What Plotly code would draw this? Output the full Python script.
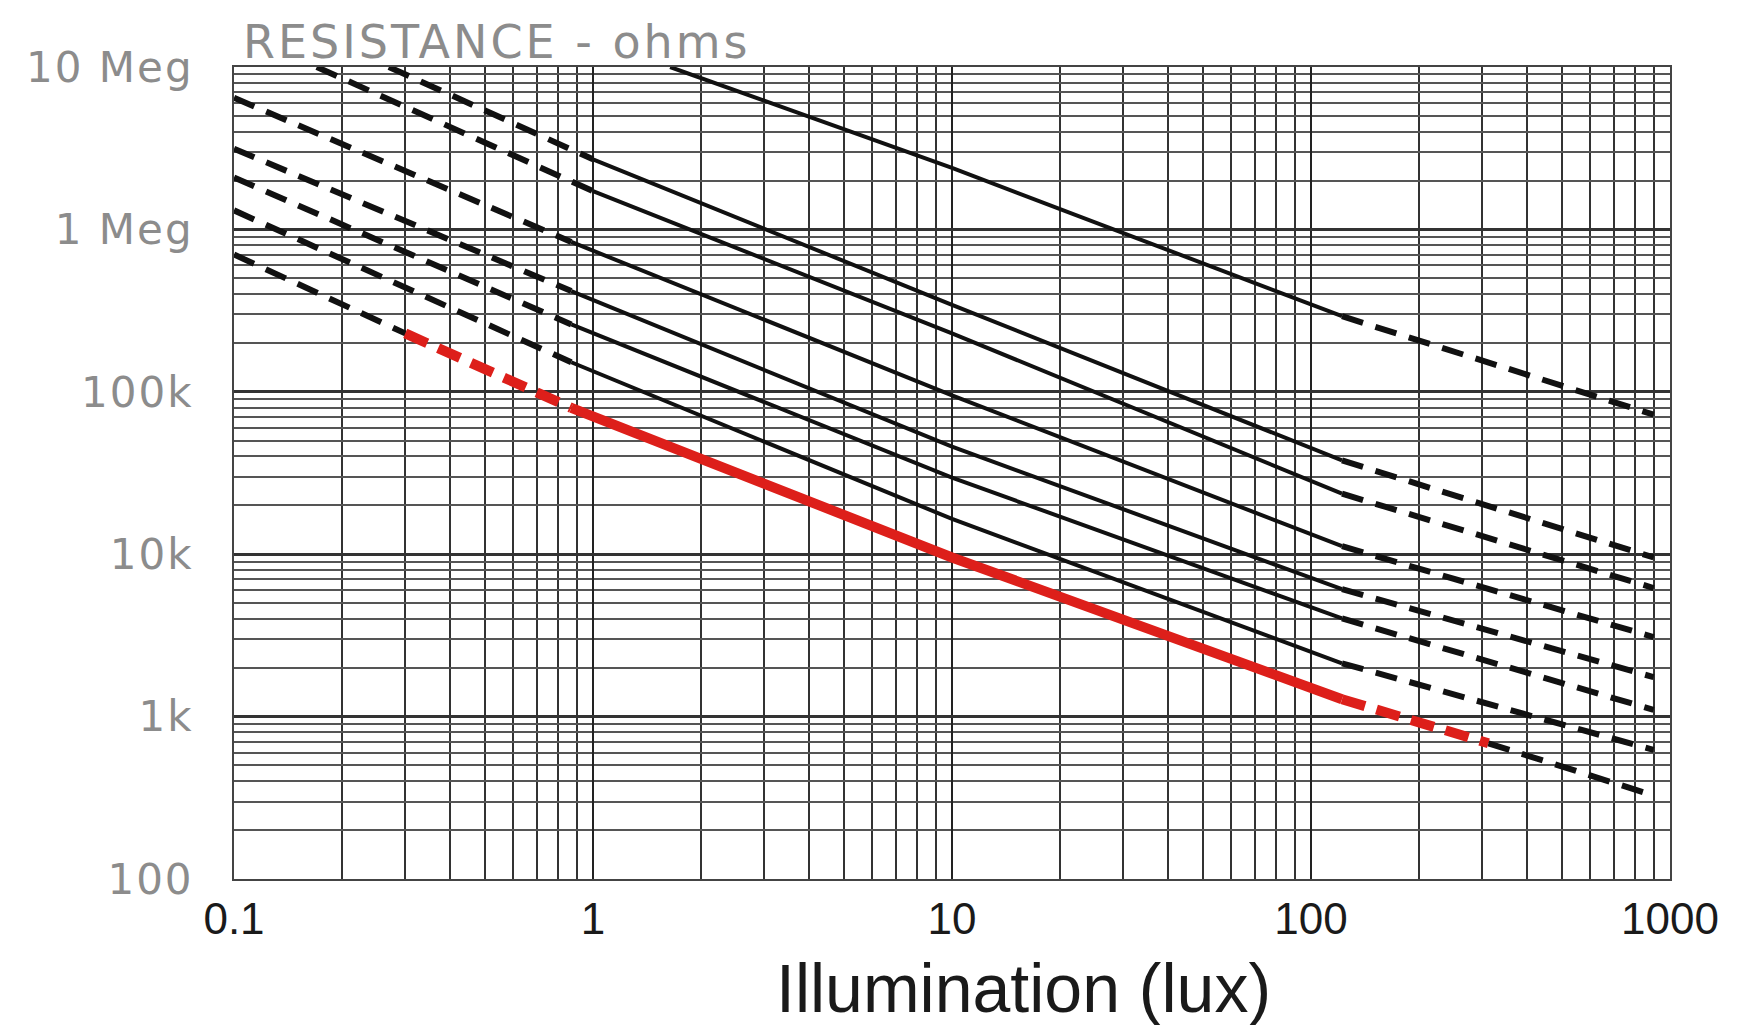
import plotly.graph_objects as go

# ---------------- data ----------------
# Illumination (lux) sample points and resistance (ohms) for each curve
lux_a = [1.64, 10, 122, 900]
ohm_a = [1.0e7, 2.39e6, 2.92e5, 7.23e4]

lux_1 = [0.27, 1.0, 10, 122, 900]
ohm_1 = [1.0e7, 2.70e6, 3.43e5, 3.78e4, 9.55e3]

lux_2 = [0.17, 1.0, 10, 122, 900]
ohm_2 = [1.0e7, 1.72e6, 2.29e5, 2.36e4, 6.19e3]

lux_3 = [0.1, 0.87, 10, 122, 900]
ohm_3 = [6.46e6, 8.37e5, 9.52e4, 1.12e4, 3.09e3]

lux_4 = [0.1, 0.87, 10, 122, 900]
ohm_4 = [3.14e6, 4.17e5, 4.59e4, 6.10e3, 1.75e3]

lux_5 = [0.1, 0.87, 10, 122, 900]
ohm_5 = [2.09e6, 2.60e5, 2.96e4, 4.02e3, 1.10e3]

lux_6 = [0.1, 0.87, 10, 122, 900]
ohm_6 = [1.31e6, 1.52e5, 1.65e4, 2.13e3, 624]

lux_7 = [0.1, 0.3, 0.87, 10, 122, 312, 900]
ohm_7 = [7.00e5, 2.29e5, 7.96e4, 9.55e3, 1.28e3, 685, 327]

# which point ranges are drawn dashed / solid / highlighted
seg_a = [(0, 2, "solid"), (2, 3, "dash")]
seg_mid = [(0, 1, "dash"), (1, 3, "solid"), (3, 4, "dash")]
seg_7 = [(0, 1, "dash"), (1, 2, "rdash"), (2, 4, "rsolid"), (4, 5, "rdash"), (5, 6, "dash")]

curves = [
    (lux_a, ohm_a, seg_a),
    (lux_1, ohm_1, seg_mid),
    (lux_2, ohm_2, seg_mid),
    (lux_3, ohm_3, seg_mid),
    (lux_4, ohm_4, seg_mid),
    (lux_5, ohm_5, seg_mid),
    (lux_6, ohm_6, seg_mid),
    (lux_7, ohm_7, seg_7),
]

x_tickvals = [0.1, 1, 10, 100, 1000]
x_ticktext = ["0.1", "1", "10", "100", "1000"]
y_tickvals = [1e2, 1e3, 1e4, 1e5, 1e6, 1e7]
y_ticktext = ["100", "1k", "10k", "100k", "1 Meg", "10 Meg"]

# ---------------- styles ----------------
RED = "#dd1f1a"
styles = {
    "solid": dict(color="#111111", width=4, dash="solid"),
    "dash": dict(color="#111111", width=6, dash="22px,13px"),
    "rsolid": dict(color=RED, width=10, dash="solid"),
    "rdash": dict(color=RED, width=10, dash="24px,12px"),
}

fig = go.Figure()
for lx, oh, segs in curves:
    for i0, i1, st in segs:
        fig.add_trace(go.Scatter(
            x=lx[i0:i1 + 1], y=oh[i0:i1 + 1], mode="lines",
            line=styles[st], showlegend=False, hoverinfo="skip"))

minor_x = [m * 10.0 ** k for k in range(-1, 3) for m in range(2, 10)]
minor_y = [m * 10.0 ** k for k in range(2, 7) for m in range(2, 10)]

SP = '<span style="letter-spacing:3px">{}</span>'
SPY = '<span style="letter-spacing:2px">{}</span>'

fig.update_layout(
    width=1740, height=1025,
    margin=dict(l=226, r=78, t=59, b=154),
    paper_bgcolor="white", plot_bgcolor="white",
    xaxis=dict(
        type="log", range=[-1, 3], automargin=False,
        tickvals=x_tickvals, ticktext=x_ticktext,
        tickfont=dict(family="Liberation Sans, Arial", size=44, color="#1a1a1a"),
        ticks="", ticklabelstandoff=0,
        showgrid=True, gridcolor="#222222", gridwidth=2,
        showline=True, linecolor="#444444", linewidth=2, mirror=True,
        zeroline=False,
        minor=dict(tickvals=minor_x, showgrid=True, gridcolor="#333333", gridwidth=1.6, ticks=""),
    ),
    yaxis=dict(
        type="log", range=[2, 7], automargin=False,
        tickvals=y_tickvals, ticktext=[SPY.format(t) for t in y_ticktext],
        tickfont=dict(family="DejaVu Sans", size=42, color="#8c8c8c"),
        ticks="", ticklabelstandoff=30,
        showgrid=True, gridcolor="#333333", gridwidth=2.5,
        showline=True, linecolor="#444444", linewidth=2, mirror=True,
        zeroline=False,
        minor=dict(tickvals=minor_y, showgrid=True, gridcolor="#555555", gridwidth=1.6, ticks=""),
    ),
    annotations=[
        dict(text=SP.format("RESISTANCE - ohms"), x=0.005, xref="paper", xanchor="left",
             y=1.066, yref="paper", yanchor="top", showarrow=False,
             font=dict(family="DejaVu Sans", size=46, color="#8c8c8c")),
        dict(text="Illumination (lux)", x=0.55, xref="paper", xanchor="center",
             y=-0.134, yref="paper", yanchor="middle", showarrow=False,
             font=dict(family="Liberation Sans, Arial", size=68, color="#1a1a1a")),
    ],
)

fig.write_html("out.html")
